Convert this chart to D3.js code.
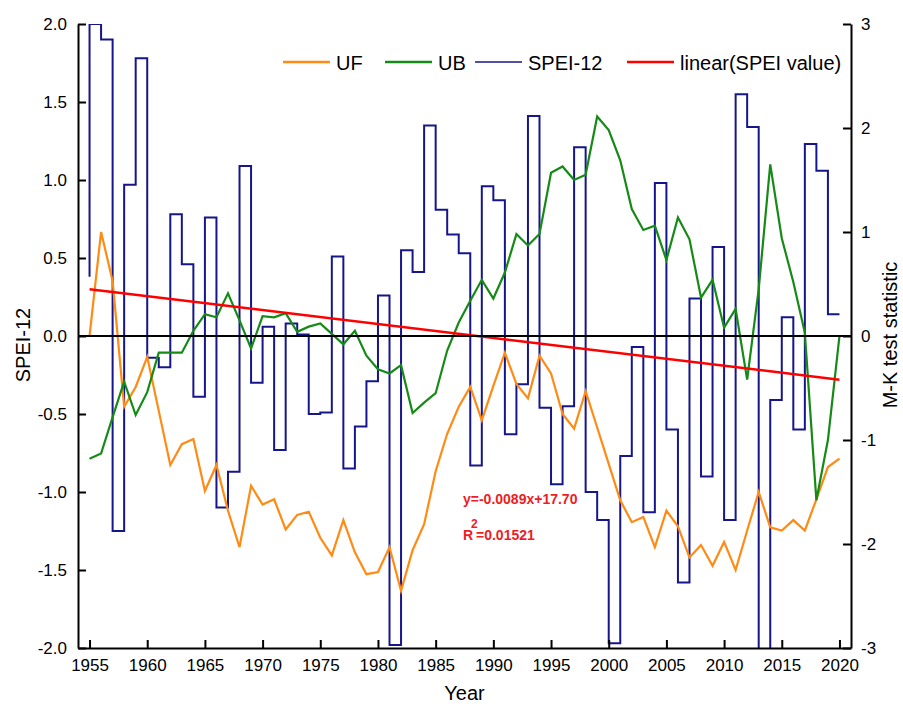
<!DOCTYPE html>
<html>
<head>
<meta charset="utf-8">
<script src="https://cdn.jsdelivr.net/npm/d3@7"></script>
<style>
  body { margin: 0; background: #fff; }
  text { font-family: "Liberation Sans", Arial, sans-serif; fill: #000; }
</style>
</head>
<body>
<svg id="chart" width="903" height="706"></svg>
<script>
// years and series
var years = d3.range(1955, 2021);

var spei = [0.38, 2.00, 1.90, -1.25, 0.97, 1.78, -0.14, -0.20, 0.78, 0.46,
    -0.39, 0.76, -1.10, -0.87, 1.09, -0.30, 0.06, -0.73, 0.08, 0.01,
    -0.50, -0.49, 0.51, -0.85, -0.58, -0.29, 0.26, -1.98, 0.55, 0.41,
    1.35, 0.81, 0.65, 0.53, -0.83, 0.96, 0.87, -0.63, -0.31, 1.41,
    -0.46, -0.95, -0.45, 1.21, -1.00, -1.18, -1.97, -0.77, -0.07, -1.13,
    0.98, -0.60, -1.58, 0.24, -0.90, 0.57, -1.18, 1.55, 1.34, -2.20,
    -0.41, 0.12, -0.60, 1.23, 1.06, 0.14];

var uf = [0, 1.00, 0.53, -0.68, -0.49, -0.20, -0.72, -1.24, -1.04, -0.99,
    -1.49, -1.24, -1.68, -2.03, -1.44, -1.62, -1.57, -1.86, -1.72, -1.69,
    -1.94, -2.11, -1.77, -2.08, -2.29, -2.27, -2.03, -2.45, -2.06, -1.81,
    -1.30, -0.94, -0.68, -0.49, -0.81, -0.48, -0.16, -0.46, -0.60, -0.19,
    -0.36, -0.75, -0.89, -0.53, -0.88, -1.23, -1.58, -1.79, -1.74, -2.03,
    -1.68, -1.83, -2.13, -2.01, -2.21, -1.98, -2.25, -1.87, -1.50, -1.84,
    -1.87, -1.77, -1.87, -1.57, -1.26, -1.18];

var ub = [-1.18, -1.13, -0.78, -0.44, -0.76, -0.54, -0.16, -0.16, -0.16, 0.05,
    0.21, 0.18, 0.41, 0.15, -0.12, 0.19, 0.18, 0.22, 0.04, 0.09,
    0.12, 0.02, -0.08, 0.05, -0.19, -0.32, -0.36, -0.28, -0.74, -0.64,
    -0.55, -0.14, 0.13, 0.34, 0.54, 0.36, 0.61, 0.98, 0.87, 0.98,
    1.57, 1.63, 1.50, 1.55, 2.11, 1.98, 1.69, 1.22, 1.02, 1.06,
    0.73, 1.14, 0.93, 0.37, 0.54, 0.08, 0.26, -0.42, 0.45, 1.65,
    0.94, 0.52, 0.03, -1.58, -1.00, 0];

// linear fit of SPEI (end points)
var trendYears = [1955, 2020];
var trendValues = [0.30, -0.28];

var xTicks = d3.range(1955, 2021, 5);
var leftTicks = [-2.0, -1.5, -1.0, -0.5, 0.0, 0.5, 1.0, 1.5, 2.0];
var rightTicks = [-3, -2, -1, 0, 1, 2, 3];

var legendItems = [
    {name: "UF", color: "#ff8a14"},
    {name: "UB", color: "#168a16"},
    {name: "SPEI-12", color: "#16168c"},
    {name: "linear(SPEI value)", color: "#ff0000"}
];

var svg = d3.select("#chart"),
    plotLeft = 78, plotRight = 851, plotTop = 24, plotBottom = 648;

var x = d3.scaleLinear().domain([1954, 2021]).range([plotLeft, plotRight]);
var yL = d3.scaleLinear().domain([-2, 2]).range([plotBottom, plotTop]);
var yR = d3.scaleLinear().domain([-3, 3]).range([plotBottom, plotTop]);

svg.append("clipPath").attr("id", "plotClip")
    .append("rect")
    .attr("x", plotLeft).attr("y", plotTop)
    .attr("width", plotRight - plotLeft).attr("height", plotBottom - plotTop + 1);

var plot = svg.append("g").attr("clip-path", "url(#plotClip)");

// SPEI-12 as step line
var speiLine = d3.line()
    .x(function(d, i) { return x(years[i]); })
    .y(function(d) { return yL(d); })
    .curve(d3.curveStepBefore);

plot.append("path")
    .datum(spei)
    .attr("d", speiLine)
    .attr("fill", "none")
    .attr("stroke", "#16168c")
    .attr("stroke-width", 2);

// zero line
svg.append("line")
    .attr("x1", plotLeft).attr("x2", plotRight)
    .attr("y1", yL(0)).attr("y2", yL(0))
    .attr("stroke", "#000")
    .attr("stroke-width", 2);

var mkLine = d3.line()
    .x(function(d, i) { return x(years[i]); })
    .y(function(d) { return yR(d); });

plot.append("path")
    .datum(uf)
    .attr("d", mkLine)
    .attr("fill", "none")
    .attr("stroke", "#ff8a14")
    .attr("stroke-width", 2.2);

plot.append("path")
    .datum(ub)
    .attr("d", mkLine)
    .attr("fill", "none")
    .attr("stroke", "#168a16")
    .attr("stroke-width", 2.2);

plot.append("path")
    .datum(trendValues)
    .attr("d", d3.line()
        .x(function(d, i) { return x(trendYears[i]); })
        .y(function(d) { return yL(d); }))
    .attr("fill", "none")
    .attr("stroke", "#ff0000")
    .attr("stroke-width", 2.5);

// axes, ticks pointing inward
var xAxis = svg.append("g")
    .attr("transform", "translate(0," + plotBottom + ")")
    .call(d3.axisBottom(x).tickValues(xTicks)
        .tickFormat(d3.format("d"))
        .tickSizeInner(-8).tickSizeOuter(0).tickPadding(11));

var leftAxis = svg.append("g")
    .attr("transform", "translate(" + plotLeft + ",0)")
    .call(d3.axisLeft(yL).tickValues(leftTicks)
        .tickFormat(function(d) { return d.toFixed(1); })
        .tickSizeInner(-8).tickSizeOuter(0).tickPadding(11));

var rightAxis = svg.append("g")
    .attr("transform", "translate(" + plotRight + ",0)")
    .call(d3.axisRight(yR).tickValues(rightTicks)
        .tickFormat(function(d) { return d; })
        .tickSizeInner(-8).tickSizeOuter(0).tickPadding(10));

[xAxis, leftAxis, rightAxis].forEach(function(g) {
    g.select(".domain").attr("stroke", "#000").attr("stroke-width", 2);
    g.selectAll(".tick line").attr("stroke", "#000").attr("stroke-width", 2);
    g.selectAll(".tick text")
        .style("font-family", "'Liberation Sans', Arial, sans-serif")
        .style("font-size", "17px")
        .attr("fill", "#000");
});

// axis titles
svg.append("text")
    .attr("x", (plotLeft + plotRight) / 2).attr("y", 700)
    .attr("text-anchor", "middle")
    .style("font-size", "20px")
    .text("Year");

svg.append("text")
    .attr("transform", "translate(30,345) rotate(-90)")
    .attr("text-anchor", "middle")
    .style("font-size", "20px")
    .text("SPEI-12");

svg.append("text")
    .attr("transform", "translate(897,335) rotate(-90)")
    .attr("text-anchor", "middle")
    .style("font-size", "20px")
    .text("M-K test statistic");

// legend
var legendX = [283, 385, 475, 627];
var legend = svg.selectAll(".legend")
    .data(legendItems)
    .enter().append("g")
    .attr("class", "legend")
    .attr("transform", function(d, i) { return "translate(" + legendX[i] + ",62)"; });

legend.append("line")
    .attr("x1", 0).attr("x2", 47)
    .attr("stroke", function(d) { return d.color; })
    .attr("stroke-width", function(d, i) { return i == 2 ? 1.5 : 2.5; });

legend.append("text")
    .attr("x", 53).attr("y", 7.5)
    .style("font-size", "20px")
    .text(function(d) { return d.name; });

// regression label
var eq = svg.append("g")
    .style("font-weight", "bold")
    .style("font-size", "14px");

eq.append("text").attr("x", 463).attr("y", 504)
    .style("fill", "#ee1c24")
    .text("y=-0.0089x+17.70");
eq.append("text").attr("x", 463).attr("y", 540)
    .style("fill", "#ee1c24")
    .text("R");
eq.append("text").attr("x", 471).attr("y", 528)
    .style("fill", "#ee1c24").style("font-size", "12px")
    .text("2");
eq.append("text").attr("x", 476).attr("y", 540)
    .style("fill", "#ee1c24")
    .text("=0.01521");
</script>
</body>
</html>
